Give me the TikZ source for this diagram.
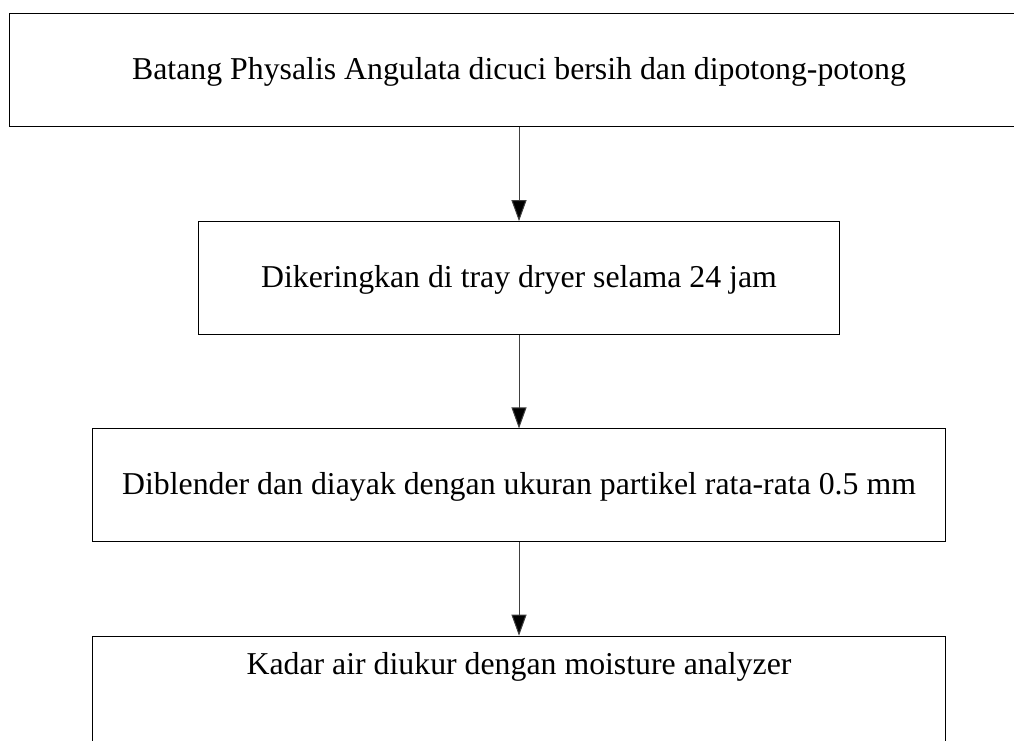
\documentclass[tikz,border=0pt]{standalone}
\usepackage{fontspec}
\setmainfont{Liberation Serif}
\usetikzlibrary{arrows.meta}
\begin{document}
\begin{tikzpicture}[x=1pt,y=-1pt,
  box/.style={draw=black,line width=1pt,inner sep=0pt,minimum height=112.7pt,text height=21.7pt,text depth=2.9pt,font=\fontsize{31.8}{38}\selectfont},
  txt/.style={inner sep=0pt,font=\fontsize{31.8}{38}\selectfont},
  arr/.style={draw=black!75,line width=1pt,-{Triangle[length=21pt,width=15pt,fill=black]}}]
\clip (0,0) rectangle (1014,740);
\useasboundingbox (0,0) rectangle (1014,740);
\node[box,minimum width=1018.6pt] (b1) at (519,70.3) {Batang Physalis Angulata dicuci bersih dan dipotong-potong};
\node[box,minimum width=641.7pt] (b2) at (519,278) {Dikeringkan di tray dryer selama 24 jam};
\node[box,minimum width=852.6pt] (b3) at (519,485.3) {Diblender dan diayak dengan ukuran partikel rata-rata 0.5 mm};
\node[box,minimum width=853pt,anchor=north] (b4) at (519,635.7) {};
\node[txt,anchor=base] (t4) at (519,674) {Kadar air diukur dengan moisture analyzer};
\draw[arr] (b1.south) -- (b2.north);
\draw[arr] (b2.south) -- (b3.north);
\draw[arr] (b3.south) -- (b4.north);
\end{tikzpicture}
\end{document}
